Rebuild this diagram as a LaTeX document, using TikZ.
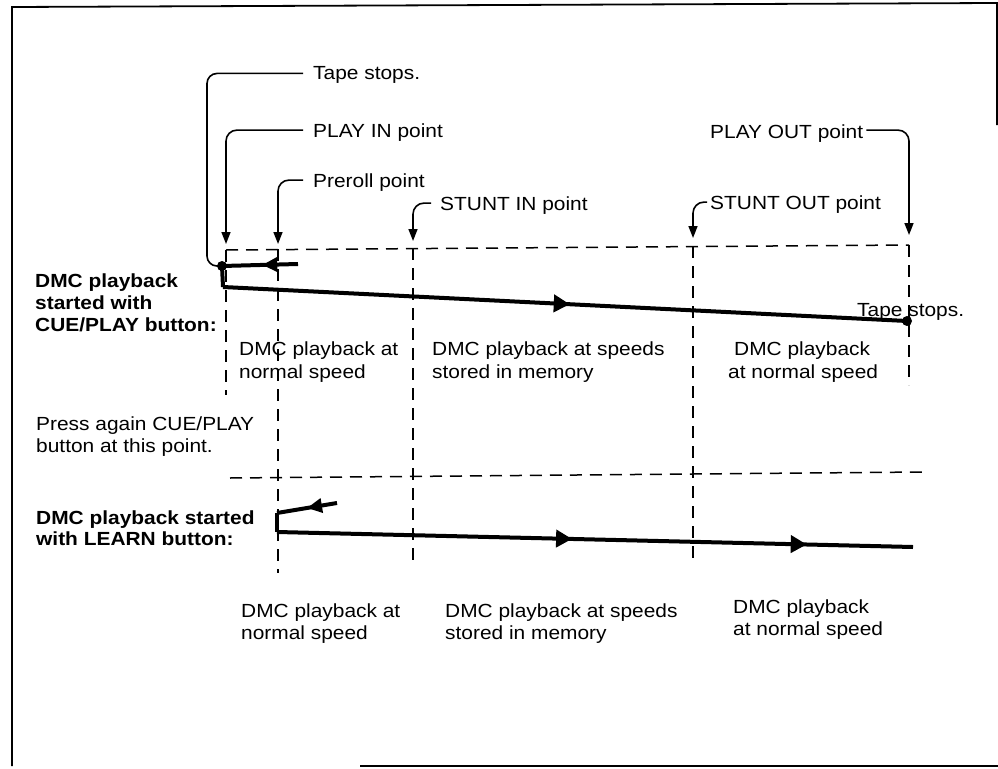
\documentclass[tikz,border=0pt]{standalone}
\usepackage{fontspec}
\setmainfont[FakeStretch=1.1]{Liberation Sans}
\usetikzlibrary{arrows.meta,decorations.markings}
\begin{document}
\begin{tikzpicture}[x=1pt,y=-1pt,
  lbl/.style={anchor=base west, inner sep=0pt, font=\fontsize{19}{22}\selectfont},
  blbl/.style={anchor=base west, inner sep=0pt, font=\fontsize{19}{22}\selectfont\bfseries},
  leader/.style={line width=1.6pt, rounded corners=11pt, -{Triangle[length=12pt,width=9pt]}},
  plainleader/.style={line width=1.6pt, rounded corners=10pt},
  guide/.style={line width=1.5pt, dash pattern=on 12pt off 8pt},
  track/.style={line width=4pt},
  fwd/.style={postaction={decorate}, decoration={markings, mark=at position #1 with {\arrow{Triangle[length=16pt,width=17pt]}}}},
  back/.style={postaction={decorate}, decoration={markings, mark=at position #1 with {\arrow{Triangle[length=15pt,width=14pt]}}}},
  fwdtwo/.style={postaction={decorate}, decoration={markings,
      mark=at position 0.464 with {\arrow{Triangle[length=16pt,width=17pt]}},
      mark=at position 0.833 with {\arrow{Triangle[length=16pt,width=17pt]}}}},
  framel/.style={line width=1.8pt},
  dotn/.style={circle, fill, inner sep=0pt, minimum size=10pt}
]
\useasboundingbox (0,0) rectangle (998,768);

% frame
\coordinate (f1) at (12,766);
\coordinate (f2) at (12,7);
\coordinate (f3) at (997,3);
\coordinate (f4) at (997,125);
\coordinate (f5) at (360,766);
\coordinate (f6) at (998,766);
\draw[framel] (f1) -- (f2) -- (f3) -- (f4);
\draw[framel] (f5) -- (f6);

% top labels
\node[lbl] (tape1) at (313,80) {Tape stops.};
\node[lbl] (playin) at (313,137) {PLAY IN point};
\node[lbl] (preroll) at (313,187) {Preroll point};
\node[lbl] (stuntin) at (440,210) {STUNT IN point};
\node[lbl] (stuntout) at (710,209) {STUNT OUT point};
\node[lbl] (playout) at (710,138) {PLAY OUT point};
\node[lbl] (tape2) at (857,316) {Tape stops.};

% guide coordinates
\coordinate (pinT) at (226,250);
\coordinate (pinB) at (226,395);
\coordinate (preT) at (278,249);
\coordinate (preB) at (278,573);
\coordinate (sinT) at (413,248);
\coordinate (sinB) at (413,563);
\coordinate (soutT) at (693,246);
\coordinate (soutB) at (693,565);
\coordinate (poutT) at (909,245);
\coordinate (poutB) at (909,385);
\coordinate (sepL) at (230,478);
\coordinate (sepR) at (923,472);

% dashed guides
\draw[guide] (pinT) -- (poutT);
\draw[guide] (pinT) -- (pinB);
\draw[guide] (preT) -- (preB);
\draw[guide] (sinT) -- (sinB);
\draw[guide] (soutT) -- (soutB);
\draw[guide] (poutT) -- (poutB);
\draw[guide] (sepL) -- (sepR);

% top track
\node[dotn] (dotA) at (222,266) {};
\node[dotn] (dotB) at (907,321) {};
\coordinate (a1) at (298,264);
\coordinate (a2) at (223,287);
\draw[track, back=0.47] (a1) -- (dotA.center);
\draw[track] (dotA.center) -- (a2);
\draw[track, fwd=0.507] (a2) -- (dotB.center);

% leaders
\draw[plainleader] ([xshift=-10pt,yshift=2pt]tape1.west) -| ([xshift=-15pt]dotA.center) -- (dotA.center);
\draw[leader] ([xshift=-10pt,yshift=2pt]playin.west) -| ([yshift=6pt]pinT);
\draw[leader] ([xshift=-10pt,yshift=2pt]preroll.west) -| ([yshift=5pt]preT);
\draw[leader] ([xshift=-9pt,yshift=2pt]stuntin.west) -| ([yshift=7pt]sinT);
\draw[leader] ([xshift=-3pt,yshift=2pt]stuntout.west) -| ([yshift=8pt]soutT);
\draw[leader] ([xshift=3pt,yshift=3pt]playout.east) -| ([yshift=10pt]poutT);

% bottom track
\coordinate (b0) at (337,503);
\coordinate (b1) at (277,513);
\coordinate (b2) at (277,532);
\coordinate (b3) at (913,547);
\draw[track, back=0.5] (b0) -- (b1);
\draw[track] (b1) -- (b2);
\draw[track, fwdtwo] (b2) -- (b3);

% left labels
\node[blbl] (cue1) at (35,287) {DMC playback};
\node[blbl] (cue2) at (35,309) {started with};
\node[blbl] (cue3) at (35,331) {CUE/PLAY button:};
\node[lbl] (press1) at (36,430) {Press again CUE/PLAY};
\node[lbl] (press2) at (36,452) {button at this point.};
\node[blbl] (learn1) at (36,524) {DMC playback started};
\node[blbl] (learn2) at (36,545) {with LEARN button:};

% row 1 texts
\node[lbl] (ra1) at (239,355) {DMC playback at};
\node[lbl] (ra2) at (239,378) {normal speed};
\node[lbl] (rb1) at (432,355) {DMC playback at speeds};
\node[lbl] (rb2) at (432,378) {stored in memory};
\node[lbl] (rc1) at (734,355) {DMC playback};
\node[lbl] (rc2) at (728,378) {at normal speed};

% row 2 texts
\node[lbl] (sa1) at (241,617) {DMC playback at};
\node[lbl] (sa2) at (241,639) {normal speed};
\node[lbl] (sb1) at (445,617) {DMC playback at speeds};
\node[lbl] (sb2) at (445,639) {stored in memory};
\node[lbl] (sc1) at (733,613) {DMC playback};
\node[lbl] (sc2) at (733,635) {at normal speed};
\end{tikzpicture}
\end{document}
